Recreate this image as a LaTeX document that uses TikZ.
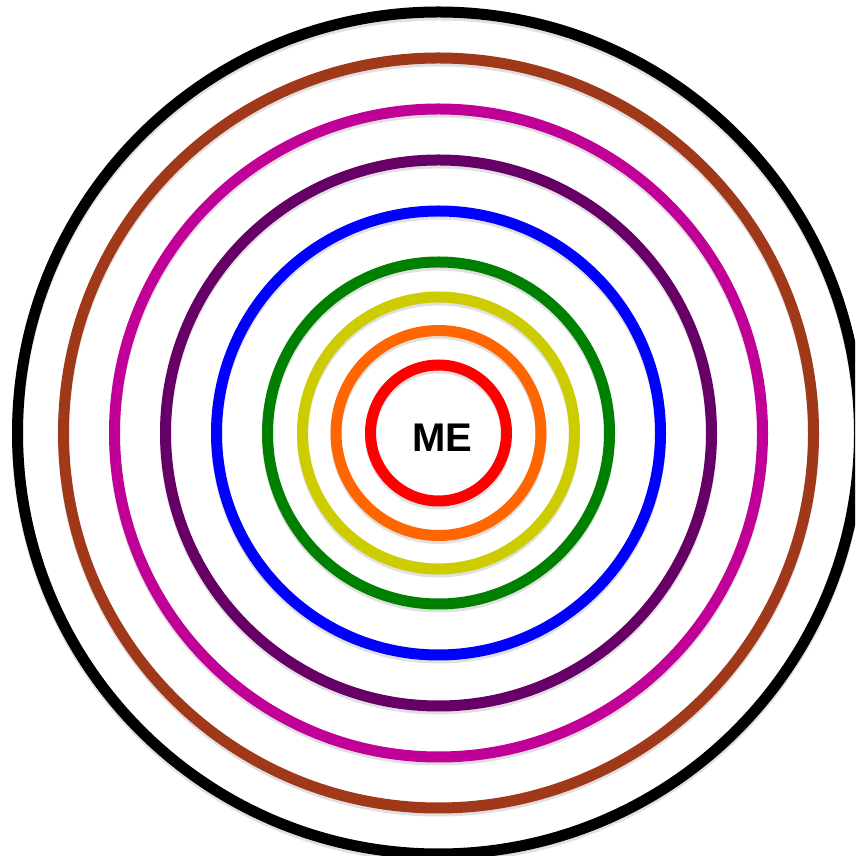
\documentclass[tikz,border=0pt]{standalone}
\usepackage{fontspec}
\setmainfont{Liberation Sans}
\definecolor{ringred}{RGB}{255,0,0}
\definecolor{ringorange}{RGB}{255,102,0}
\definecolor{ringyellow}{RGB}{204,204,0}
\definecolor{ringgreen}{RGB}{0,128,0}
\definecolor{ringblue}{RGB}{0,0,255}
\definecolor{ringpurple}{RGB}{102,0,102}
\definecolor{ringmagenta}{RGB}{192,0,150}
\definecolor{ringbrown}{RGB}{160,56,26}
\tikzset{
  ring/.style={line width=11pt},
  ringshadow/.style={line width=11pt, draw=black, opacity=0.12}
}
\begin{document}
\begin{tikzpicture}[x=1pt,y=1pt]
\useasboundingbox (0,0) rectangle (855,856);
\clip (0,0) rectangle (855,856);
\fill[white] (0,0) rectangle (855,856);
\coordinate (c) at (438.5,423);
\foreach \r in {68,102.5,136,171,222,273,324,375,421}{
  \draw[ringshadow] ([yshift=-3pt]c) circle (\r);
}
\draw[ring, ringred] (c) circle (68);
\draw[ring, ringorange] (c) circle (102.5);
\draw[ring, ringyellow] (c) circle (136);
\draw[ring, ringgreen] (c) circle (171);
\draw[ring, ringblue] (c) circle (222);
\draw[ring, ringpurple] (c) circle (273);
\draw[ring, ringmagenta] (c) circle (324);
\draw[ring, ringbrown] (c) circle (375);
\draw[ring, black] (c) circle (421);
\node[font=\fontsize{40}{40}\selectfont\bfseries, inner sep=0pt, anchor=base] (me) at (442.5,404) {ME};
\end{tikzpicture}
\end{document}
